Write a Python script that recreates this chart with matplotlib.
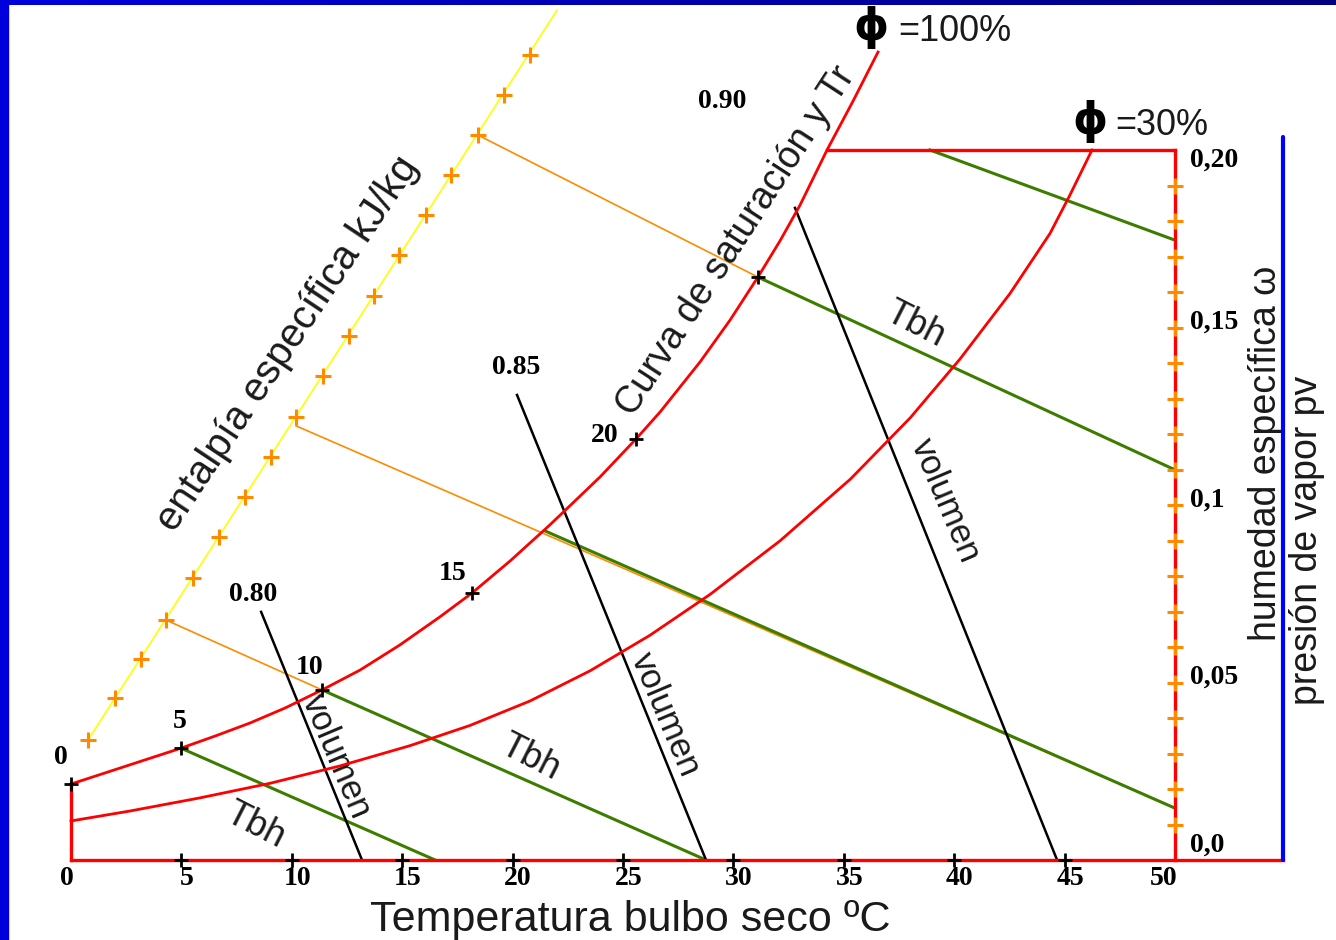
import matplotlib
matplotlib.use("Agg")
import matplotlib.pyplot as plt
from matplotlib.patches import Rectangle
import numpy as np

# ---------------- data (T in degC, w in kg/kg) ----------------
sat_T = [0.0, 4.98, 6.52, 8.11, 9.69, 11.37, 13.09, 14.90, 16.71, 18.16, 19.88, 21.69, 23.96,
         25.59, 26.68, 28.49, 29.85, 31.11, 32.11, 33.02, 34.24, 35.42, 36.55]
sat_W = [0.0214, 0.0315, 0.0349, 0.0386, 0.0428, 0.0479, 0.0535, 0.0606, 0.0685, 0.0752, 0.0842, 0.0944, 0.1079,
         0.1186, 0.1262, 0.1403, 0.1521, 0.1642, 0.1744, 0.1845, 0.2000, 0.2138, 0.2276]
sat_marker_idx = [0, 1, 5, 9, 13, 17]
sat_top_idx = 20
sat_labels = ["0", "5", "10", "15", "20"]
sat_label_T = [-0.45, 4.94, 10.82, 17.30, 24.18]
sat_label_W = [0.0290, 0.0389, 0.0541, 0.0808, 0.1197]

rh30_T = [0.0, 2.67, 5.84, 9.01, 12.18, 15.35, 18.07, 20.79, 23.51, 26.22, 28.94, 32.11, 35.30,
          38.00, 40.26, 42.53, 44.34, 45.24, 46.24]
rh30_W = [0.0110, 0.0138, 0.0175, 0.0216, 0.0265, 0.0322, 0.0379, 0.0448, 0.0533, 0.0633, 0.0748, 0.0899, 0.1073,
          0.1245, 0.1411, 0.1596, 0.1765, 0.1873, 0.2000]

enth_T = [0.77, 1.99, 3.17, 4.30, 5.53, 6.70, 7.88, 9.06, 10.19, 11.41, 12.59, 13.72, 14.86, 16.08, 17.21, 18.43, 19.61, 20.79]
enth_W = [0.0338, 0.0456, 0.0566, 0.0676, 0.0794, 0.0910, 0.1023, 0.1135, 0.1248, 0.1363, 0.1476, 0.1589, 0.1704, 0.1817, 0.1930, 0.2042, 0.2155, 0.2268]
enth_end = (22.01, 0.2394)

# orange connectors (enthalpy -> saturation / beyond)
orange_T = [[4.30, 11.37], [10.19, 50.0], [18.43, 31.11]]
orange_W = [[0.0676, 0.0479], [0.1223, 0.0146], [0.2042, 0.1642]]

# wet bulb (Tbh) lines
tbh_T = [[4.98, 16.49], [11.37, 28.76], [21.47, 50.0], [31.11, 50.0], [38.90, 50.0]]
tbh_W = [[0.0315, 0.0], [0.0479, 0.0], [0.0927, 0.0146], [0.1642, 0.1099], [0.2000, 0.1746]]

# specific volume lines
vol_labels = ["0.80", "0.85", "0.90"]
vol_T = [[8.61, 13.18], [20.20, 28.76], [32.79, 44.66]]
vol_W = [[0.0699, 0.0], [0.1310, 0.0], [0.1837, 0.0]]
vol_label_T = [8.24, 20.15, 29.48]
vol_label_W = [0.0749, 0.1386, 0.2138]

x_ticks = [0, 5, 10, 15, 20, 25, 30, 35, 40, 45, 50]
w_minor = [0.01, 0.02, 0.03, 0.04, 0.05, 0.06, 0.07, 0.08, 0.09, 0.10,
           0.11, 0.12, 0.13, 0.14, 0.15, 0.16, 0.17, 0.18, 0.19]
w_labels = ["0,20", "0,15", "0,1", "0,05", "0,0"]
w_label_vals = [0.20, 0.15, 0.10, 0.05, 0.0]

T_MAX = 50.0
W_MAX = 0.20
T_BLUE = 54.89

# ---------------- figure ----------------
fig = plt.figure(figsize=(13.36, 9.40), dpi=100)
fig.patch.set_facecolor("white")
ax = fig.add_axes([0, 0, 1, 1])
ax.set_xlim(-71 / 22.08, (1336 - 71) / 22.08)
ax.set_ylim((860 - 940) / 3550, 860 / 3550)
ax.axis("off")

RED = "#ff0000"
GREEN = "#3c7d00"
ORANGE = "#ff8a00"
SANS = "Liberation Sans"
SERIF = "Liberation Serif"

# enthalpy scale
ax.plot([enth_T[0], enth_end[0]], [enth_W[0], enth_end[1]], color="#ffff00", lw=1.2, zorder=2)
ax.plot(enth_T, enth_W, ls="none", marker="+", ms=11, mew=2.2, color=ORANGE, zorder=3)

# orange connectors
for tt, ww in zip(orange_T, orange_W):
    ax.plot(tt, ww, color=ORANGE, lw=1.2, zorder=2)

# red frame
ax.plot([0, 0], [0, sat_W[0]], color=RED, lw=2.4, zorder=4)
ax.plot([0, T_BLUE], [0, 0], color=RED, lw=2.4, zorder=4)
ax.plot([T_MAX, T_MAX], [0, W_MAX], color=RED, lw=2.4, zorder=4)
ax.plot([sat_T[sat_top_idx], T_MAX], [W_MAX, W_MAX], color=RED, lw=2.4, zorder=4)

# curves
ax.plot(sat_T, sat_W, color=RED, lw=2.0, zorder=4, solid_joinstyle="round")
ax.plot(rh30_T, rh30_W, color=RED, lw=2.0, zorder=4, solid_joinstyle="round")

# wet bulb lines
for tt, ww in zip(tbh_T, tbh_W):
    ax.plot(tt, ww, color=GREEN, lw=2.2, zorder=3)

# volume lines
for tt, ww in zip(vol_T, vol_W):
    ax.plot(tt, ww, color="black", lw=1.8, zorder=3)

# markers on saturation curve
ax.plot([sat_T[i] for i in sat_marker_idx], [sat_W[i] for i in sat_marker_idx],
        ls="none", marker="+", ms=10, mew=2.0, color="black", zorder=5)
# bottom axis markers
ax.plot(x_ticks[1:-1], [0] * (len(x_ticks) - 2), ls="none", marker="+", ms=10, mew=2.0,
        color="black", zorder=5)
# right axis markers
ax.plot([T_MAX] * len(w_minor), w_minor, ls="none", marker="+", ms=11, mew=2.2,
        color=ORANGE, zorder=5)

# blue vertical axis
ax.plot([T_BLUE, T_BLUE], [0, 0.2037], color="#0000ff", lw=3.0, zorder=4, solid_capstyle="round")

# ---------------- texts ----------------
numfont = dict(family=SERIF, fontweight="bold", fontsize=20, color="black")
for t in x_ticks:
    off = 0.25
    if t == 0:
        off = -0.2
    if t == 50:
        off = -0.5
    ax.text(t + off, -0.0052, str(t), ha="center", va="center", **numfont)

w_off = [-0.0028, 0.0015, 0.0014, 0.0015, 0.0042]
for lab, v, o in zip(w_labels, w_label_vals, w_off):
    ax.text(50.68, v + o, lab, ha="left", va="center", **numfont)

for lab, t, w in zip(sat_labels, sat_label_T, sat_label_W):
    ax.text(t, w, lab, ha="center", va="center", **numfont)

for lab, t, w in zip(vol_labels, vol_label_T, vol_label_W):
    ax.text(t, w, lab, ha="center", va="center", **numfont)

sans = dict(family=SANS, color="#1a1a1a")
ax.text(25.32, -0.0168, "Temperatura bulbo seco ºC", ha="center", va="center", fontsize=31, **sans)
ax.text(9.80, 0.1455, "entalpía específica kJ/kg", ha="center", va="center",
        rotation=56.3, rotation_mode="anchor", fontsize=29, **sans)
ax.text(30.12, 0.1744, "Curva de saturación y Tr", ha="center", va="center",
        rotation=57, rotation_mode="anchor", fontsize=27, **sans)
ax.text(54.12, 0.1146, "humedad específica ω", ha="center", va="center",
        rotation=90, fontsize=27, **sans)
ax.text(55.98, 0.0901, "presión de vapor pv", ha="center", va="center",
        rotation=90, fontsize=27, **sans)

for t, w in [(12.0, 0.0290), (26.9, 0.0408), (39.58, 0.1011)]:
    ax.text(t, w, "volumen", ha="center", va="center", rotation=-67,
            rotation_mode="anchor", fontsize=25, **sans)
for t, w in [(8.33, 0.0096), (20.79, 0.0287), (38.22, 0.1507)]:
    ax.text(t, w, "Tbh", ha="center", va="center", rotation=-27,
            rotation_mode="anchor", fontsize=26, **sans)

phi = dict(family="DejaVu Sans", fontweight="bold", fontsize=32, color="black")
ax.text(36.23, 0.2346, "ϕ", ha="center", va="center", **phi)
ax.text(37.45, 0.2335, "=100%", ha="left", va="center", fontsize=26, **sans)
ax.text(46.15, 0.2079, "ϕ", ha="center", va="center", **phi)
ax.text(47.28, 0.2070, "=30%", ha="left", va="center", fontsize=26, **sans)

# slide border
fig.patches.append(Rectangle((0, 0), 8 / 1336, 1, transform=fig.transFigure,
                             color="#0000dd", zorder=10))
grad = np.linspace(0, 1, 256).reshape(1, -1)
bax = fig.add_axes([0, 1 - 5 / 940, 1, 5 / 940])
bax.imshow(grad, aspect="auto", cmap=matplotlib.colors.LinearSegmentedColormap.from_list(
    "b", ["#0000dd", "#000080"]))
bax.axis("off")

fig.savefig("out.png", dpi=100)
